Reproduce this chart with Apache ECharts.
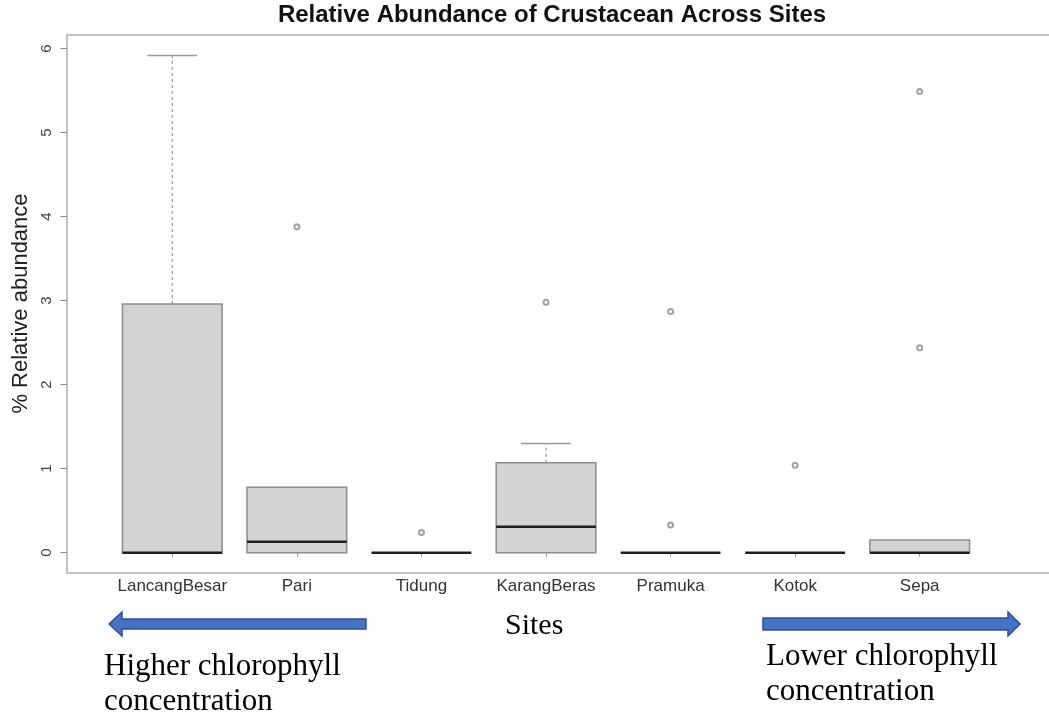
<!DOCTYPE html>
<html>
<head>
<meta charset="utf-8">
<script src="https://cdn.jsdelivr.net/npm/echarts@6/dist/echarts.min.js"></script>
<style>
  html, body { margin: 0; padding: 0; background: #fff; }
  #main { width: 1049px; height: 717px; }
</style>
</head>
<body>
<div id="main"></div>
<script>
// sites along the x axis
const sites = ['LancangBesar', 'Pari', 'Tidung', 'KarangBeras', 'Pramuka', 'Kotok', 'Sepa'];
// box statistics per site (% relative abundance)
const lowerWhisker = [0, 0, 0, 0, 0, 0, 0];
const q1 = [0, 0, 0, 0, 0, 0, 0];
const median = [0, 0.13, 0, 0.31, 0, 0, 0];
const q3 = [2.96, 0.78, 0, 1.07, 0, 0, 0.15];
const upperWhisker = [5.92, 0.78, 0, 1.30, 0, 0, 0.15];
// outliers: [site, value]
const outliers = [
  ['Pari', 3.88], ['Tidung', 0.24], ['KarangBeras', 2.98],
  ['Pramuka', 2.87], ['Pramuka', 0.33], ['Kotok', 1.04],
  ['Sepa', 5.49], ['Sepa', 2.44]
];
const yTicks = [0, 1, 2, 3, 4, 5, 6];

const sans = '"Liberation Sans", Arial, sans-serif';
const serif = '"Liberation Serif", "Times New Roman", serif';

const boxData = sites.map(function (s, i) {
  return [i, lowerWhisker[i], q1[i], median[i], q3[i], upperWhisker[i]];
});

function renderBox(params, api) {
  const idx = api.value(0);
  const band = api.size([1, 0])[0];
  const half = band * 0.4;
  const capHalf = band * 0.2;
  const lo = api.coord([idx, api.value(1)]);
  const b1 = api.coord([idx, api.value(2)]);
  const md = api.coord([idx, api.value(3)]);
  const b3 = api.coord([idx, api.value(4)]);
  const hi = api.coord([idx, api.value(5)]);
  const cx = md[0];
  const children = [];
  const grey = '#9a9a9a';
  if (api.value(5) > api.value(4)) {
    children.push({
      type: 'line',
      shape: { x1: cx, y1: b3[1], x2: cx, y2: hi[1] },
      style: { stroke: grey, lineWidth: 1.2, lineDash: [3, 3] }
    });
    children.push({
      type: 'line',
      shape: { x1: cx - capHalf, y1: hi[1], x2: cx + capHalf, y2: hi[1] },
      style: { stroke: grey, lineWidth: 1.5 }
    });
  }
  if (api.value(1) < api.value(2)) {
    children.push({
      type: 'line',
      shape: { x1: cx, y1: b1[1], x2: cx, y2: lo[1] },
      style: { stroke: grey, lineWidth: 1.2, lineDash: [3, 3] }
    });
    children.push({
      type: 'line',
      shape: { x1: cx - capHalf, y1: lo[1], x2: cx + capHalf, y2: lo[1] },
      style: { stroke: grey, lineWidth: 1.5 }
    });
  }
  children.push({
    type: 'rect',
    shape: { x: cx - half, y: b3[1], width: half * 2, height: b1[1] - b3[1] },
    style: { fill: '#d3d3d3', stroke: '#8c8c8c', lineWidth: 1.5 }
  });
  children.push({
    type: 'line',
    shape: { x1: cx - half, y1: md[1], x2: cx + half, y2: md[1] },
    style: { stroke: '#1e1e1e', lineWidth: 2.5 }
  });
  return { type: 'group', children: children };
}

const chart = echarts.init(document.getElementById('main'), null, { renderer: 'canvas' });

// frame around the plot region (left, top, bottom; right side runs off the picture)
const frameLine = { show: true, lineStyle: { color: '#c2c2c2', width: 2 } };

const option = {
  animation: false,
  backgroundColor: '#ffffff',
  textStyle: { fontFamily: sans },
  title: {
    text: 'Relative Abundance of Crustacean Across Sites',
    left: 552,
    top: 3,
    textAlign: 'center',
    padding: 0,
    textStyle: { fontFamily: sans, fontSize: 24, fontWeight: 'bold', color: '#111' }
  },
  grid: [
    { left: 110, right: 67, top: 34.5, bottom: 144.5, containLabel: false },
    { left: 66.5, right: 0, top: 34.5, bottom: 144.5, show: false }
  ],
  xAxis: [
    {
      gridIndex: 0,
      type: 'category',
      data: sites,
      axisLine: { show: false },
      axisTick: { show: true, alignWithLabel: true, length: 4, lineStyle: { color: '#999' } },
      axisLabel: { interval: 0, fontSize: 17, color: '#333', margin: 5, fontFamily: sans }
    },
    {
      gridIndex: 1, type: 'value', position: 'bottom', min: 0, max: 1,
      axisLine: frameLine, axisTick: { show: false }, axisLabel: { show: false }, splitLine: { show: false }
    },
    {
      gridIndex: 1, type: 'value', position: 'top', min: 0, max: 1,
      axisLine: frameLine, axisTick: { show: false }, axisLabel: { show: false }, splitLine: { show: false }
    }
  ],
  yAxis: [
    {
      gridIndex: 0,
      type: 'value',
      min: -0.236,
      max: 6.169,
      offset: 43.5,
      name: '% Relative abundance',
      nameLocation: 'middle',
      nameGap: 32,
      nameTextStyle: { fontSize: 22, color: '#222', fontFamily: sans },
      axisLine: { show: false },
      axisTick: { show: true, length: 6, customValues: yTicks, lineStyle: { color: '#888' } },
      axisLabel: {
        rotate: 90, fontSize: 15, color: '#444', margin: 12,
        customValues: yTicks, fontFamily: sans
      },
      splitLine: { show: false }
    },
    {
      gridIndex: 1, type: 'value', position: 'left', min: 0, max: 1,
      axisLine: frameLine, axisTick: { show: false }, axisLabel: { show: false }, splitLine: { show: false }
    }
  ],
  series: [
    {
      type: 'custom',
      xAxisIndex: 0,
      yAxisIndex: 0,
      renderItem: renderBox,
      encode: { x: 0, y: [1, 2, 3, 4, 5] },
      data: boxData,
      z: 2
    },
    {
      type: 'scatter',
      xAxisIndex: 0,
      yAxisIndex: 0,
      data: outliers,
      symbol: 'emptyCircle',
      symbolSize: 5,
      itemStyle: { color: '#8a8a8a', borderWidth: 1.2 },
      z: 3
    }
  ],
  graphic: [
    {
      type: 'polygon',
      shape: { points: [[109, 624], [122, 612], [122, 619], [366, 619], [366, 629], [122, 629], [122, 636]] },
      style: { fill: '#4472c4', stroke: '#2f528f', lineWidth: 1.5 }
    },
    {
      type: 'polygon',
      shape: { points: [[763, 618], [1008, 618], [1008, 612], [1020, 624], [1008, 636], [1008, 630], [763, 630]] },
      style: { fill: '#4472c4', stroke: '#2f528f', lineWidth: 1.5 }
    },
    {
      type: 'text', left: 505, top: 611,
      style: { text: 'Sites', font: '30px ' + serif, fill: '#000' }
    },
    {
      type: 'text', left: 104, top: 651,
      style: { text: 'Higher chlorophyll', font: '31px ' + serif, fill: '#000' }
    },
    {
      type: 'text', left: 104, top: 686,
      style: { text: 'concentration', font: '31px ' + serif, fill: '#000' }
    },
    {
      type: 'text', left: 766, top: 641,
      style: { text: 'Lower chlorophyll', font: '31px ' + serif, fill: '#000' }
    },
    {
      type: 'text', left: 766, top: 676,
      style: { text: 'concentration', font: '31px ' + serif, fill: '#000' }
    }
  ]
};

chart.setOption(option);
</script>
</body>
</html>
